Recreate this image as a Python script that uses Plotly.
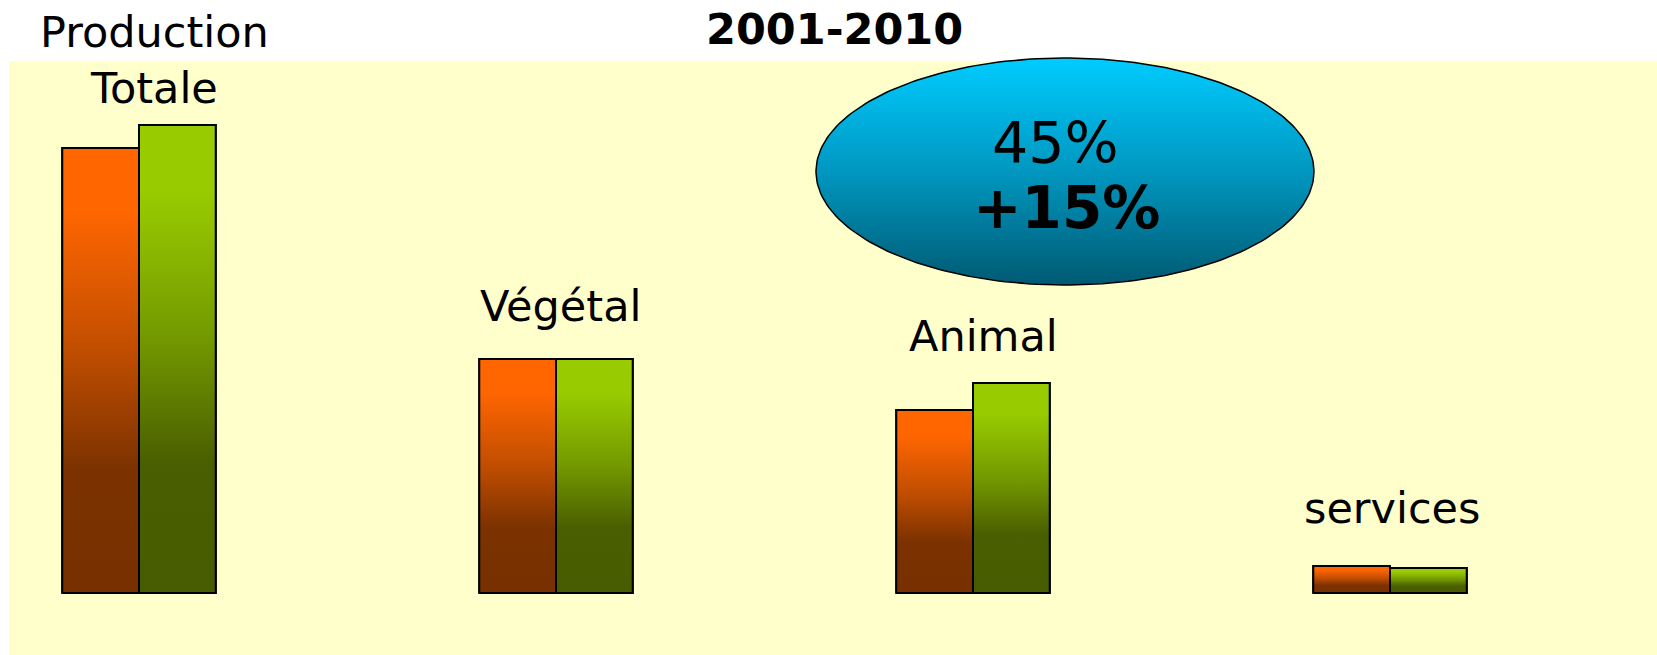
import plotly.graph_objects as go
import numpy as np

# ---- data ----
categories = ["Production<br>Totale", "Végétal", "Animal", "services"]
series_a = [445, 234, 183, 27]   # orange (period start)
series_b = [468, 234, 210, 25]   # green (period end)
title_text = "2001-2010"
bubble_line1 = "45%"
bubble_line2 = "+15%"

# ---- geometry / style ----
W, H = 1657, 655
FONT = "Verdana, DejaVu Sans, sans-serif"
bar_w = 0.184
x_range = [-139 / 417, (W - 139) / 417]
y_range = [-62, 593]

orange_scale = [[0, "#783000"], [0.28, "#7C3200"], [0.55, "#C24E00"], [0.86, "#FF6600"], [1, "#FF6600"]]
green_scale = [[0, "#475C00"], [0.28, "#4A5F00"], [0.55, "#749A00"], [0.86, "#99CC00"], [1, "#99CC00"]]
bubble_scale = [[0, "#005A73"], [0.5, "#0097C0"], [1, "#00CCFF"]]

xi = list(range(len(categories)))

fig = go.Figure()
fig.add_trace(go.Bar(x=xi, y=series_a, offset=-bar_w, width=bar_w, marker=dict(color="#FF6600", line=dict(color="black", width=2)), showlegend=False, hoverinfo="skip"))
fig.add_trace(go.Bar(x=xi, y=series_b, offset=0, width=bar_w, marker=dict(color="#99CC00", line=dict(color="black", width=2)), showlegend=False, hoverinfo="skip"))

# gradient overlays derived from the same values
for vals, off, scale in [(series_a, -bar_w, orange_scale), (series_b, 0.0, green_scale)]:
    for i, v in zip(xi, vals):
        x0, x1 = i + off, i + off + bar_w
        fig.add_trace(go.Scatter(
            x=[x0, x0, x1, x1, x0], y=[0, v, v, 0, 0],
            mode="lines", fill="toself",
            fillgradient=dict(type="vertical", colorscale=scale),
            line=dict(color="black", width=2),
            showlegend=False, hoverinfo="skip"))

# ellipse bubble (decoration) with vertical gradient
t = np.linspace(0, 2 * np.pi, 240)
cx, cy = (1065 - 139) / 417, 593 - 171.5
rx, ry = 249 / 417, 113.5
fig.add_trace(go.Scatter(
    x=cx + rx * np.cos(t), y=cy + ry * np.sin(t),
    mode="lines", fill="toself",
    fillgradient=dict(type="vertical", colorscale=bubble_scale),
    line=dict(color="black", width=1.5),
    showlegend=False, hoverinfo="skip"))


def px(x):
    return x / W


def py(y):
    return 1 - y / H


annotations = []
label_pos = [(154, 60), (560, 306), (983, 336), (1392, 508)]
for cat, (lx, ly) in zip(categories, label_pos):
    annotations.append(dict(text=cat, x=px(lx), y=py(ly), xref="paper", yref="paper",
                            xanchor="center", yanchor="middle", showarrow=False,
                            font=dict(family=FONT, size=43, color="black")))
annotations.append(dict(text="<b>" + title_text + "</b>", x=px(835), y=py(29), xref="paper", yref="paper",
                        xanchor="center", yanchor="middle", showarrow=False,
                        font=dict(family=FONT, size=43, color="black")))
annotations.append(dict(text=bubble_line1, x=px(1055), y=py(143), xref="paper", yref="paper",
                        xanchor="center", yanchor="middle", showarrow=False,
                        font=dict(family=FONT, size=57, color="black")))
annotations.append(dict(text="<b>" + bubble_line2 + "</b>", x=px(1066), y=py(208), xref="paper", yref="paper",
                        xanchor="center", yanchor="middle", showarrow=False,
                        font=dict(family=FONT, size=58, color="black")))

fig.update_layout(
    width=W, height=H,
    margin=dict(l=0, r=0, t=0, b=0),
    paper_bgcolor="white",
    plot_bgcolor="rgba(0,0,0,0)",
    barmode="overlay",
    xaxis=dict(range=x_range, visible=False, fixedrange=True),
    yaxis=dict(range=y_range, visible=False, fixedrange=True),
    shapes=[dict(type="rect", xref="paper", yref="paper", x0=px(9), x1=1, y0=0, y1=py(61),
                 fillcolor="#FFFFCC", line=dict(width=0), layer="below")],
    annotations=annotations,
    showlegend=False,
)

fig.write_html("out.html", config={"displayModeBar": False},
               post_script="document.body.style.margin='0';document.body.style.overflow='hidden';")
